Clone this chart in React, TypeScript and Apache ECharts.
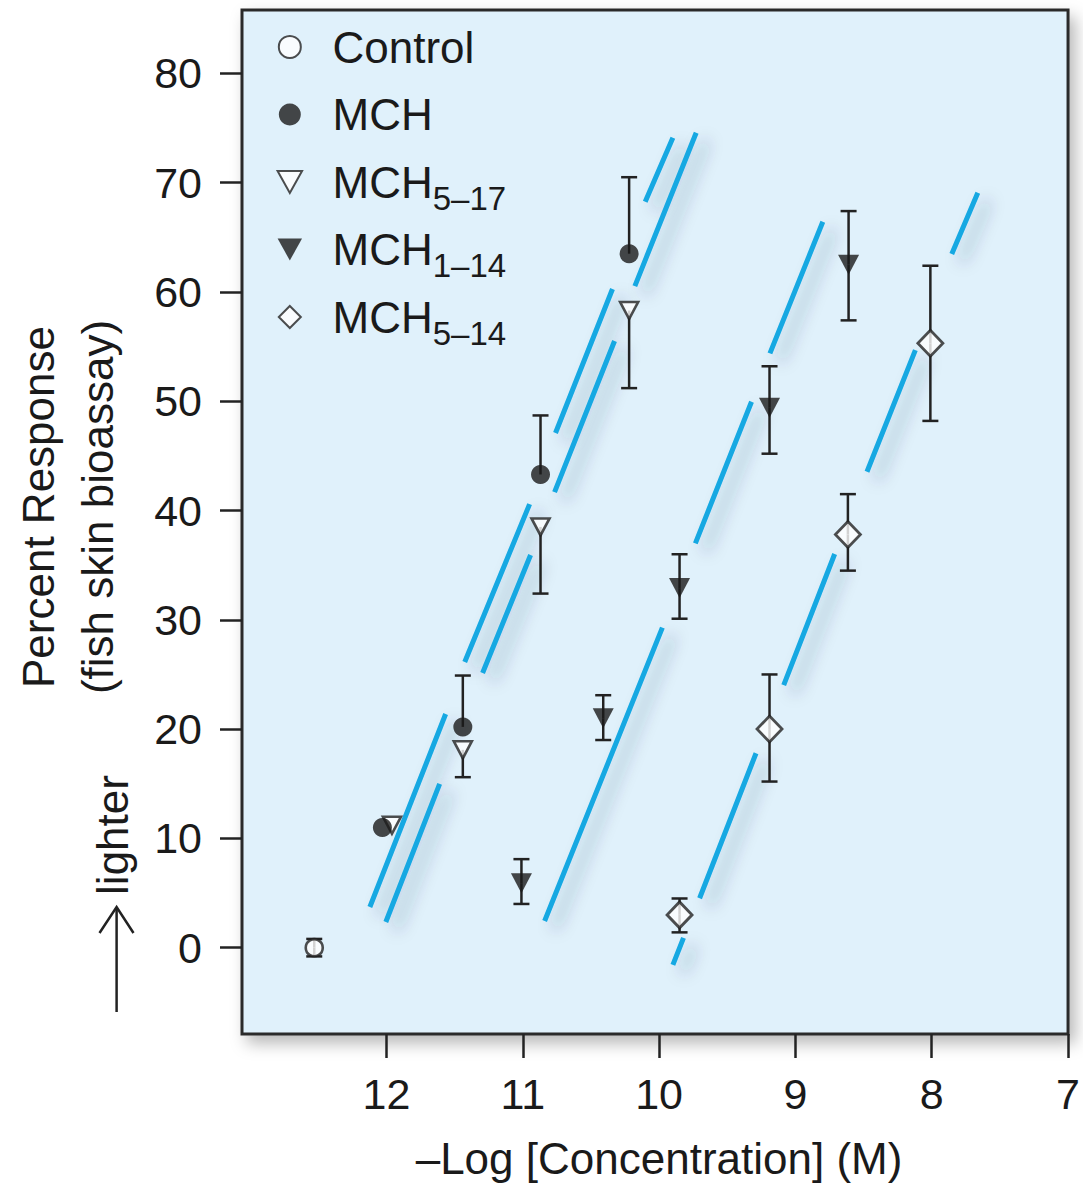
import React, { useEffect, useRef } from 'react';
import * as echarts from 'echarts';

const FONT = '"Liberation Sans", Arial, Helvetica, sans-serif';
const INK = '#1a1a1a';

// axis ticks / labels
const xTicks = [7, 8, 9, 10, 11, 12];
const yTicks = [0, 10, 20, 30, 40, 50, 60, 70, 80];

// legend / series names
const seriesNames = ['Control', 'MCH', 'MCH5–17', 'MCH1–14', 'MCH5–14'];

// data points [-log conc, percent response]
const controlPts = [[12.53, 0]];
const mchPts = [[12.03, 11.0], [11.44, 20.2], [10.87, 43.3], [10.22, 63.5]];
const mch517Pts = [[11.96, 11.2], [11.44, 18.1], [10.87, 38.5], [10.22, 58.3]];
const mch114Pts = [[11.01, 5.9], [10.41, 21.0], [9.85, 32.9], [9.19, 49.4], [8.61, 62.5]];
const mch514Pts = [[9.85, 3.0], [9.19, 20.0], [8.615, 37.8], [8.01, 55.3]];

// error half-bars [x, from (point), to (cap)]
const controlErr = [[12.53, 0, 0.8], [12.53, 0, -0.8]];
const mchErr = [[11.44, 20.2, 24.9], [10.87, 43.3, 48.7], [10.22, 63.5, 70.5]];
const mch517Err = [[11.44, 18.1, 15.6], [10.87, 38.5, 32.4], [10.22, 58.3, 51.2]];
const mch114Err = [
  [11.01, 5.9, 8.1], [11.01, 5.9, 4.0],
  [10.41, 21.0, 23.1], [10.41, 21.0, 19.0],
  [9.85, 32.9, 36.0], [9.85, 32.9, 30.1],
  [9.19, 49.4, 53.2], [9.19, 49.4, 45.2],
  [8.61, 62.5, 67.4], [8.61, 62.5, 57.4],
];
const mch514Err = [
  [9.85, 3.0, 4.5], [9.85, 3.0, 1.4],
  [9.19, 20.0, 25.0], [9.19, 20.0, 15.2],
  [8.615, 37.8, 41.5], [8.615, 37.8, 34.5],
  [8.01, 55.3, 62.4], [8.01, 55.3, 48.2],
];

// fitted lines, drawn as broken segments [x1, y1, x2, y2]
const fitMch = [
  [12.122, 3.72, 11.566, 21.38],
  [11.426, 26.14, 10.95, 40.59],
  [10.76, 47.09, 10.342, 60.27],
  [10.102, 68.25, 9.899, 74.11],
];
const fitMch517 = [
  [12.005, 2.35, 11.61, 14.98],
  [11.295, 25.13, 10.943, 35.93],
  [10.767, 41.69, 10.327, 55.51],
  [10.178, 60.54, 9.728, 74.57],
];
const fitMch114 = [
  [10.84, 2.44, 9.976, 29.28],
  [9.734, 37.0, 9.322, 49.95],
  [9.187, 54.38, 8.799, 66.42],
];
const fitMch514 = [
  [9.899, -1.58, 9.821, 0.89],
  [9.703, 4.52, 9.289, 17.79],
  [9.086, 24.03, 8.712, 36.02],
  [8.475, 43.55, 8.12, 54.68],
  [7.853, 63.47, 7.662, 69.08],
];
const fitLines = [fitMch, fitMch517, fitMch114, fitMch514];

const TRI_DOWN = 'path://M0,0L20,0L10,18Z';
const DIAMOND = 'path://M10,0L20,10L10,20L0,10Z';

export default function App() {
  const ref = useRef<HTMLDivElement>(null);

  useEffect(() => {
    if (!ref.current) return;
    const chart = echarts.init(ref.current, null, { renderer: 'svg' });

    const errData = [...controlErr, ...mchErr, ...mch517Err, ...mch114Err, ...mch514Err];

    const openStyle = { color: '#ffffff', borderColor: '#222', borderWidth: 2.6 };
    const fillStyle = { color: INK, borderColor: INK, borderWidth: 0 };

    const option: any = {
      animation: false,
      grid: {
        left: 242,
        top: 10,
        right: 12.3,
        bottom: 151,
        show: true,
        backgroundColor: '#e0f1fb',
        borderColor: '#2b2b2b',
        borderWidth: 3,
        shadowColor: 'rgba(0,0,0,0.28)',
        shadowBlur: 16,
        shadowOffsetX: 6,
        shadowOffsetY: 8,
      },
      xAxis: {
        type: 'value',
        inverse: true,
        min: 7,
        max: 13.06,
        name: '–Log [Concentration] (M)',
        nameLocation: 'middle',
        nameGap: 102,
        nameTextStyle: { fontSize: 44, fontFamily: FONT, color: INK, padding: [0, 0, 0, 8] },
        axisLine: { show: false, onZero: false },
        splitLine: { show: false },
        axisTick: {
          show: true,
          inside: false,
          length: 24,
          customValues: xTicks,
          lineStyle: { color: '#222', width: 2.5 },
        },
        axisLabel: {
          customValues: xTicks,
          margin: 38,
          fontSize: 43,
          fontFamily: FONT,
          color: INK,
        },
      },
      yAxis: {
        type: 'value',
        min: -7.9,
        max: 85.8,
        axisLine: { show: false, onZero: false },
        splitLine: { show: false },
        axisTick: {
          show: true,
          inside: false,
          length: 22,
          customValues: yTicks,
          lineStyle: { color: '#222', width: 2.5 },
        },
        axisLabel: {
          customValues: yTicks,
          margin: 40,
          fontSize: 43,
          fontFamily: FONT,
          color: INK,
        },
      },
      legend: {
        data: seriesNames,
        orient: 'vertical',
        left: 276.6,
        top: 25,
        padding: 0,
        itemGap: 13,
        itemWidth: 75.4,
        itemHeight: 22,
        selectedMode: false,
        textStyle: {
          fontSize: 44,
          fontFamily: FONT,
          color: INK,
          rich: {
            m: { fontSize: 44, lineHeight: 50, fontFamily: FONT, color: INK },
            s: { fontSize: 33, lineHeight: 18, height: 18, verticalAlign: 'bottom', fontFamily: FONT, color: INK },
          },
        },
        formatter: (name: string) => {
          if (name.length > 3 && name.startsWith('MCH')) {
            return `{m|MCH}{s|${name.slice(3)}}`;
          }
          return `{m|${name}}{s| }`;
        },
      },
      graphic: [
        {
          type: 'text',
          x: 38,
          y: 507,
          rotation: Math.PI / 2,
          silent: true,
          style: {
            text: 'Percent Response',
            fontSize: 44,
            fontFamily: FONT,
            fill: INK,
            textAlign: 'center',
            textVerticalAlign: 'middle',
            align: 'center',
            verticalAlign: 'middle',
          },
        },
        {
          type: 'text',
          x: 97,
          y: 507,
          rotation: Math.PI / 2,
          silent: true,
          style: {
            text: '(fish skin bioassay)',
            fontSize: 44,
            fontFamily: FONT,
            fill: INK,
            textAlign: 'center',
            textVerticalAlign: 'middle',
            align: 'center',
            verticalAlign: 'middle',
          },
        },
        {
          type: 'text',
          x: 112.5,
          y: 835,
          rotation: Math.PI / 2,
          silent: true,
          style: {
            text: 'lighter',
            fontSize: 44,
            fontFamily: FONT,
            fill: INK,
            textAlign: 'center',
            textVerticalAlign: 'middle',
            align: 'center',
            verticalAlign: 'middle',
          },
        },
        {
          type: 'line',
          silent: true,
          shape: { x1: 116.6, y1: 1012, x2: 116.6, y2: 908 },
          style: { stroke: '#222', lineWidth: 2.5 },
        },
        {
          type: 'polyline',
          silent: true,
          shape: { points: [[99.5, 933], [116.6, 907], [133.5, 933]] },
          style: { stroke: '#222', lineWidth: 2.5, fill: 'none' },
        },
      ],
      series: [
        {
          type: 'custom',
          silent: true,
          z: 2,
          data: fitLines.map((segs, i) => [segs[0][0], segs[0][1], i]),
          encode: { x: 0, y: 1 },
          renderItem: (params: any, api: any) => {
            const segs = fitLines[api.value(2)];
            let d = '';
            segs.forEach((s) => {
              const a = api.coord([s[0], s[1]]);
              const b = api.coord([s[2], s[3]]);
              d += `M${a[0]} ${a[1]}L${b[0]} ${b[1]}`;
            });
            return {
              type: 'path',
              shape: { pathData: d },
              style: {
                fill: 'none',
                stroke: '#15a8e2',
                lineWidth: 5,
                shadowColor: 'rgba(30,50,90,0.35)',
                shadowBlur: 16,
                shadowOffsetX: 10,
                shadowOffsetY: 8,
              },
            };
          },
        },
        {
          type: 'custom',
          silent: true,
          z: 3,
          data: errData,
          encode: { x: 0, y: 1 },
          renderItem: (params: any, api: any) => {
            const x = api.value(0);
            const from = api.coord([x, api.value(1)]);
            const to = api.coord([x, api.value(2)]);
            const hw = 8;
            const st = { stroke: '#222', lineWidth: 2.5 };
            return {
              type: 'group',
              children: [
                { type: 'line', shape: { x1: from[0], y1: from[1], x2: to[0], y2: to[1] }, style: st },
                { type: 'line', shape: { x1: to[0] - hw, y1: to[1], x2: to[0] + hw, y2: to[1] }, style: st },
              ],
            };
          },
        },
        {
          type: 'scatter',
          name: 'Control',
          z: 5,
          silent: true,
          data: controlPts,
          symbol: 'circle',
          symbolSize: 17,
          itemStyle: openStyle,
        },
        {
          type: 'scatter',
          name: 'MCH5–17',
          z: 5,
          silent: true,
          data: mch517Pts,
          symbol: TRI_DOWN,
          symbolSize: [18, 17],
          itemStyle: openStyle,
        },
        {
          type: 'scatter',
          name: 'MCH',
          z: 5,
          silent: true,
          data: mchPts,
          symbol: 'circle',
          symbolSize: 19,
          itemStyle: fillStyle,
        },
        {
          type: 'scatter',
          name: 'MCH1–14',
          z: 5,
          silent: true,
          data: mch114Pts,
          symbol: TRI_DOWN,
          symbolSize: [21, 20],
          itemStyle: fillStyle,
        },
        {
          type: 'scatter',
          name: 'MCH5–14',
          z: 5,
          silent: true,
          data: mch514Pts,
          symbol: DIAMOND,
          symbolSize: [25, 26],
          itemStyle: { color: '#ffffff', borderColor: '#222', borderWidth: 2.8 },
        },
      ],
    };

    chart.setOption(option);
    return () => chart.dispose();
  }, []);

  return (
    <div
      ref={ref}
      style={{ position: 'absolute', left: 0, top: 0, width: 1083, height: 1185 }}
    />
  );
}
